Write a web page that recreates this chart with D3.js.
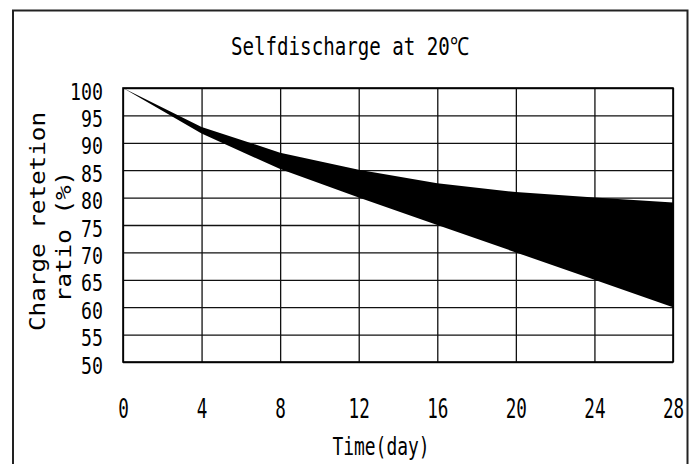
<!DOCTYPE html>
<html lang="en">
<head>
<meta charset="utf-8">
<title>Selfdischarge at 20℃</title>
<script src="https://cdn.jsdelivr.net/npm/d3@7"></script>
<style>
body { margin: 0; background: #fff; }
svg text { font-family: "DejaVu Sans Mono", "Liberation Mono", monospace; fill: #000; }
</style>
</head>
<body>
<svg id="chart" width="696" height="464"></svg>
<script>
// data
var days = [0, 4, 8, 12, 16, 20, 24, 28];
var upperRetention = [100, 92.9, 88.2, 85.1, 82.6, 81, 80, 79.1];
var lowerRetention = [100, 91.7, 85.2, 80, 75, 70, 65, 60];
var yTicks = [50, 55, 60, 65, 70, 75, 80, 85, 90, 95, 100];
var titleText = "Selfdischarge at 20℃";
var xLabel = "Time(day)";
var yLabelLines = ["Charge retetion", "ratio (%)"];

var svg = d3.select("#chart");
var margin = {left: 123, top: 88},
    w = 550,
    h = 274;

// outer frame (runs off the bottom of the picture)
svg.append("rect")
  .attr("x", 13).attr("y", 10.5)
  .attr("width", 674.5).attr("height", 470)
  .attr("fill", "none").attr("stroke", "#222").attr("stroke-width", 2);

var g = svg.append("g").attr("transform", "translate(" + margin.left + "," + margin.top + ")");

var x = d3.scaleLinear().domain([0, 28]).range([0, w]);
var y = d3.scaleLinear().domain([50, 100]).range([h, 0]);

// squeeze text sideways like the narrow font of the original
function narrow(sel, perChar) {
  sel.attr("textLength", function () { return this.textContent.length * perChar; })
     .attr("lengthAdjust", "spacingAndGlyphs");
}

// grid + tick labels
var xAxis = g.append("g")
  .attr("transform", "translate(0," + h + ")")
  .call(d3.axisBottom(x).tickValues(days).tickSize(-h).tickFormat(d3.format("d")));
xAxis.selectAll("text")
  .attr("y", 56).attr("dy", null)
  .attr("font-family", null).style("font-size", "26px")
  .call(narrow, 10.6);

var yAxis = g.append("g")
  .call(d3.axisLeft(y).tickValues(yTicks).tickSize(-w).tickPadding(20));
yAxis.selectAll("text")
  .attr("dy", 11)
  .style("font-size", "23px")
  .call(narrow, 11);

g.selectAll(".domain").remove();
g.selectAll(".tick line").attr("stroke", "#111").attr("stroke-width", 1.3);

// plot border
g.append("rect")
  .attr("width", w).attr("height", h)
  .attr("fill", "none").attr("stroke", "#000").attr("stroke-width", 1.6);

// the band between the two retention curves
var band = days.map(function (d, i) {
  return {day: d, hi: upperRetention[i], lo: lowerRetention[i]};
});
var area = d3.area()
  .x(function (d) { return x(d.day); })
  .y0(function (d) { return y(d.lo); })
  .y1(function (d) { return y(d.hi); });
g.append("path").datum(band).attr("d", area).attr("fill", "#000");

// title
svg.append("text")
  .attr("x", 350).attr("y", 55)
  .attr("text-anchor", "middle")
  .style("font-size", "25px")
  .text(titleText)
  .call(narrow, 11.9);

// x axis title
svg.append("text")
  .attr("x", 381).attr("y", 455)
  .attr("text-anchor", "middle")
  .style("font-size", "24px")
  .text(xLabel)
  .call(narrow, 10.8);

// y axis title, two rotated lines
var yl = [{x: 45, y: 221.5}, {x: 71, y: 236.5}];
yLabelLines.forEach(function (t, i) {
  svg.append("text")
    .attr("transform", "translate(" + yl[i].x + "," + yl[i].y + ") rotate(-90)")
    .attr("text-anchor", "middle")
    .style("font-size", "22px")
    .text(t)
    .call(narrow, 14.6);
});
</script>
</body>
</html>
